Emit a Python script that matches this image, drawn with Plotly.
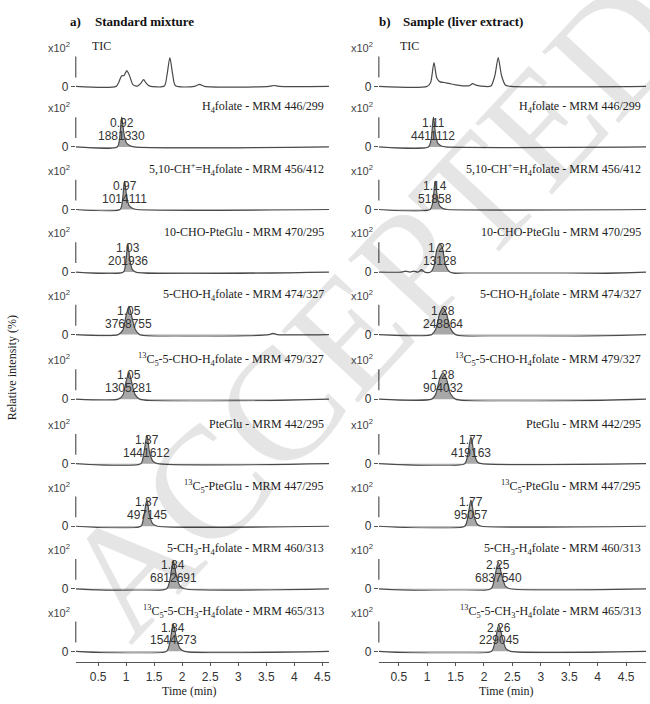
import plotly.graph_objects as go

# ---------------- DATA ----------------
labels = [
    "TIC",
    "H<sub>4</sub>folate - MRM 446/299",
    "5,10-CH<sup>+</sup>=H<sub>4</sub>folate - MRM 456/412",
    "10-CHO-PteGlu - MRM 470/295",
    "5-CHO-H<sub>4</sub>folate - MRM 474/327",
    "<sup>13</sup>C<sub>5</sub>-5-CHO-H<sub>4</sub>folate - MRM 479/327",
    "PteGlu - MRM 442/295",
    "<sup>13</sup>C<sub>5</sub>-PteGlu - MRM 447/295",
    "5-CH<sub>3</sub>-H<sub>4</sub>folate - MRM 460/313",
    "<sup>13</sup>C<sub>5</sub>-5-CH<sub>3</sub>-H<sub>4</sub>folate - MRM 465/313",
]

rt_a = [None, 0.92, 0.97, 1.03, 1.05, 1.05, 1.37, 1.37, 1.84, 1.84]
area_a = [None, "1881330", "1014111", "201936", "3768755", "1305281",
          "1441612", "497145", "6812691", "1544273"]
rt_b = [None, 1.11, 1.14, 1.22, 1.28, 1.28, 1.77, 1.77, 2.25, 2.26]
area_b = [None, "4411112", "51858", "13128", "248864", "904032",
          "419163", "95057", "6837540", "229045"]

# chromatogram points (time in min, relative intensity)
tic_a_t = [0.10, 0.82, 0.87, 0.92, 0.96, 1.01, 1.06, 1.12, 1.20, 1.26, 1.31, 1.36, 1.42,
           1.68, 1.73, 1.78, 1.83, 1.88, 2.22, 2.31, 2.40, 3.55, 3.64, 3.73, 4.62]
tic_a_y = [0, 0, 0.15, 0.36, 0.36, 0.53, 0.36, 0.06, 0.01, 0.10, 0.23, 0.10, 0.01,
           0.01, 0.40, 0.97, 0.40, 0.02, 0.0, 0.07, 0.0, 0.0, 0.03, 0.0, 0]
h4_a_t = [0.10, 0.84, 0.88, 0.92, 0.96, 1.00, 1.06, 1.14, 4.62]
h4_a_y = [0, 0, 0.25, 1.0, 0.45, 0.15, 0.05, 0, 0]
ch_a_t = [0.10, 0.89, 0.93, 0.97, 1.01, 1.05, 1.11, 1.19, 4.62]
ch_a_y = [0, 0, 0.25, 0.95, 0.42, 0.14, 0.04, 0, 0]
choPte_a_t = [0.10, 0.95, 0.99, 1.03, 1.07, 1.11, 1.17, 4.62]
choPte_a_y = [0, 0, 0.30, 0.95, 0.35, 0.08, 0, 0]
cho5_a_t = [0.10, 0.86, 0.94, 1.00, 1.05, 1.10, 1.16, 1.24, 3.55, 3.62, 3.70, 4.62]
cho5_a_y = [0, 0, 0.15, 0.65, 0.95, 0.60, 0.18, 0, 0, 0.04, 0, 0]
cho5c_a_t = [0.10, 0.86, 0.94, 1.00, 1.05, 1.10, 1.16, 1.24, 4.62]
cho5c_a_y = [0, 0, 0.13, 0.60, 0.90, 0.55, 0.15, 0, 0]
pte_a_t = [0.10, 1.26, 1.31, 1.37, 1.42, 1.48, 1.56, 4.62]
pte_a_y = [0, 0, 0.30, 0.95, 0.35, 0.08, 0, 0]
ptec_a_t = [0.10, 1.26, 1.31, 1.37, 1.42, 1.48, 1.56, 4.62]
ptec_a_y = [0, 0, 0.28, 0.90, 0.33, 0.07, 0, 0]
ch3_a_t = [0.10, 1.72, 1.78, 1.84, 1.90, 1.96, 2.04, 4.62]
ch3_a_y = [0, 0, 0.30, 0.95, 0.40, 0.10, 0, 0]
ch3c_a_t = [0.10, 1.72, 1.78, 1.84, 1.90, 1.96, 2.04, 4.62]
ch3c_a_y = [0, 0, 0.30, 0.92, 0.40, 0.10, 0, 0]

tic_b_t = [0.15, 1.00, 1.06, 1.12, 1.17, 1.22, 1.30, 1.40, 1.50, 1.62, 1.74, 1.80, 1.86,
           1.94, 2.12, 2.19, 2.25, 2.31, 2.38, 2.48, 4.85]
tic_b_y = [0, 0, 0.12, 0.80, 0.28, 0.16, 0.13, 0.09, 0.05, 0.02, 0.02, 0.09, 0.04,
           0.01, 0.01, 0.35, 0.97, 0.35, 0.04, 0.0, 0]
h4_b_t = [0.15, 1.02, 1.07, 1.11, 1.15, 1.19, 1.25, 1.33, 4.85]
h4_b_y = [0, 0, 0.25, 1.0, 0.40, 0.12, 0.03, 0, 0]
ch_b_t = [0.15, 1.05, 1.10, 1.14, 1.18, 1.22, 1.28, 1.36, 4.85]
ch_b_y = [0, 0, 0.25, 0.95, 0.42, 0.12, 0.03, 0, 0]
choPte_b_t = [0.15, 0.55, 0.62, 0.70, 0.76, 0.84, 0.90, 0.96, 1.06, 1.12, 1.17, 1.22,
              1.27, 1.32, 1.40, 4.85]
choPte_b_y = [0, 0, 0.03, 0.0, 0.03, 0.0, 0.08, 0.0, 0, 0.20, 0.75, 0.95,
              0.80, 0.25, 0, 0]
cho5_b_t = [0.15, 1.08, 1.15, 1.22, 1.28, 1.34, 1.41, 1.50, 4.85]
cho5_b_y = [0, 0, 0.18, 0.70, 0.90, 0.70, 0.20, 0, 0]
cho5c_b_t = [0.15, 1.08, 1.15, 1.22, 1.28, 1.34, 1.41, 1.50, 4.85]
cho5c_b_y = [0, 0, 0.16, 0.68, 0.88, 0.68, 0.18, 0, 0]
pte_b_t = [0.15, 1.66, 1.71, 1.77, 1.83, 1.89, 1.96, 4.85]
pte_b_y = [0, 0, 0.25, 0.90, 0.30, 0.05, 0, 0]
ptec_b_t = [0.15, 1.66, 1.71, 1.77, 1.83, 1.89, 1.96, 4.85]
ptec_b_y = [0, 0, 0.25, 0.88, 0.30, 0.05, 0, 0]
ch3_b_t = [0.15, 2.12, 2.18, 2.25, 2.32, 2.38, 2.46, 4.85]
ch3_b_y = [0, 0, 0.30, 0.90, 0.40, 0.08, 0, 0]
ch3c_b_t = [0.15, 2.13, 2.19, 2.26, 2.33, 2.39, 2.47, 4.85]
ch3c_b_y = [0, 0, 0.30, 0.90, 0.40, 0.08, 0, 0]

series_a = [(tic_a_t, tic_a_y), (h4_a_t, h4_a_y), (ch_a_t, ch_a_y), (choPte_a_t, choPte_a_y),
            (cho5_a_t, cho5_a_y), (cho5c_a_t, cho5c_a_y), (pte_a_t, pte_a_y),
            (ptec_a_t, ptec_a_y), (ch3_a_t, ch3_a_y), (ch3c_a_t, ch3c_a_y)]
series_b = [(tic_b_t, tic_b_y), (h4_b_t, h4_b_y), (ch_b_t, ch_b_y), (choPte_b_t, choPte_b_y),
            (cho5_b_t, cho5_b_y), (cho5c_b_t, cho5c_b_y), (pte_b_t, pte_b_y),
            (ptec_b_t, ptec_b_y), (ch3_b_t, ch3_b_y), (ch3c_b_t, ch3c_b_y)]

time_ticks = [0.5, 1, 1.5, 2, 2.5, 3, 3.5, 4, 4.5]
time_ticktext = ["0.5", "1", "1.5", "2", "2.5", "3", "3.5", "4", "4.5"]

# ---------------- LAYOUT ----------------
W, H = 650, 704
base_px = [87, 148, 211, 274, 337, 402, 467, 530, 593, 656]
cols = [
    dict(x0=76, x1=330, rng=[0.10, 4.62], series=series_a, rt=rt_a, area=area_a,
         tic_x=90, time_x=190, head="a)", head_x=68, title="Standard mixture", title_x=93),
    dict(x0=380, x1=648, rng=[0.15, 4.85], series=series_b, rt=rt_b, area=area_b,
         tic_x=399, time_x=508, head="b)", head_x=378, title="Sample (liver extract)", title_x=402),
]
PXU = 30.0  # pixels per intensity unit
LINE = "#4a4a4a"
FILL = "#a8a8a8"
SERIF = "Liberation Serif, Times New Roman, serif"
SANS = "Liberation Sans, Arial, sans-serif"

def py(px):
    return 1 - px / H

fig = go.Figure()
layout = dict(width=W, height=H, margin=dict(l=0, r=0, t=0, b=0),
              paper_bgcolor="white", plot_bgcolor="rgba(0,0,0,0)", showlegend=False)
annotations = []
shapes = []

# watermark
annotations.append(dict(text="ACCEPTED MANUSCRIPT", xref="paper", yref="paper",
                        x=740 / W, y=py(-85), xanchor="center", yanchor="middle",
                        textangle=-47, showarrow=False,
                        font=dict(family=SERIF, size=160, color="rgba(0,0,0,0.10)")))

for c, col in enumerate(cols):
    for i in range(10):
        n = i * 2 + c + 1
        xa = "x" if n == 1 else f"x{n}"
        ya = "y" if n == 1 else f"y{n}"
        xkey = "xaxis" if n == 1 else f"xaxis{n}"
        ykey = "yaxis" if n == 1 else f"yaxis{n}"
        t, y = col["series"][i]
        tr = dict(x=t, y=y, mode="lines", xaxis=xa, yaxis=ya, hoverinfo="skip",
                  line=dict(color=LINE, width=1.2, shape="spline", smoothing=0.7))
        if i > 0:
            tr.update(fill="tozeroy", fillcolor=FILL)
        fig.add_trace(go.Scatter(**tr))

        b = base_px[i]
        xdict = dict(domain=[col["x0"] / W, col["x1"] / W], range=col["rng"], anchor=ya,
                     showgrid=False, zeroline=False, showline=False, showticklabels=False,
                     ticks="")
        if i == 9:
            xdict.update(anchor="free", position=py(667), showline=True, linecolor="#555",
                         linewidth=1, showticklabels=True, tickvals=time_ticks,
                         ticktext=time_ticktext, ticks="outside", ticklen=3, tickcolor="#555",
                         tickfont=dict(family=SANS, size=12, color="#333"))
        layout[xkey] = xdict
        layout[ykey] = dict(domain=[py(b + 2), py(b - 44)], range=[-2 / PXU, 44 / PXU],
                            anchor=xa, showgrid=False, zeroline=False, showline=False,
                            tickvals=[0], ticktext=["0"], ticks="outside", ticklen=4,
                            tickcolor="#555", tickfont=dict(family=SANS, size=12, color="#333"))
        # partial y axis segment
        shapes.append(dict(type="line", xref=f"{xa} domain", yref=ya, x0=0, x1=0,
                           y0=0.3, y1=1.0, line=dict(color="#555", width=1.2)))
        # x10^2
        annotations.append(dict(text="x10<sup>2</sup>", xref="paper", yref="paper",
                                x=(col["x0"] - 4) / W, y=py(b - 40), xanchor="right",
                                yanchor="middle", showarrow=False,
                                font=dict(family=SANS, size=11, color="#444")))
        if i == 0:
            annotations.append(dict(text="TIC", xref="paper", yref="paper",
                                    x=col["tic_x"] / W, y=py(b - 41), xanchor="left",
                                    yanchor="middle", showarrow=False,
                                    font=dict(family=SERIF, size=12, color="#222")))
        else:
            annotations.append(dict(text=labels[i], xref="paper", yref="paper",
                                    x=(col["x1"] - 3) / W, y=py(b - 40), xanchor="right",
                                    yanchor="middle", showarrow=False,
                                    font=dict(family=SERIF, size=12, color="#222")))
            annotations.append(dict(text=f"{col['rt'][i]:.2f}", xref=xa, yref=ya,
                                    x=col["rt"][i], y=24 / PXU, xanchor="center",
                                    yanchor="middle", showarrow=False,
                                    font=dict(family=SANS, size=12, color="#333")))
            annotations.append(dict(text=col["area"][i], xref=xa, yref=ya,
                                    x=col["rt"][i], y=11 / PXU, xanchor="center",
                                    yanchor="middle", showarrow=False,
                                    font=dict(family=SANS, size=12, color="#333")))
    # column heading
    annotations.append(dict(text=f"<b>{col['head']}</b>", xref="paper", yref="paper",
                            x=col["head_x"] / W, y=py(22), xanchor="left", yanchor="middle",
                            showarrow=False, font=dict(family=SERIF, size=13, color="#111")))
    annotations.append(dict(text=f"<b>{col['title']}</b>", xref="paper", yref="paper",
                            x=col["title_x"] / W, y=py(22), xanchor="left", yanchor="middle",
                            showarrow=False, font=dict(family=SERIF, size=13, color="#111")))
    annotations.append(dict(text="Time (min)", xref="paper", yref="paper",
                            x=col["time_x"] / W, y=py(696), xanchor="center", yanchor="middle",
                            showarrow=False, font=dict(family=SERIF, size=12, color="#222")))

annotations.append(dict(text="Relative intensity (%)", xref="paper", yref="paper",
                        x=12 / W, y=py(370), xanchor="center", yanchor="middle",
                        textangle=-90, showarrow=False,
                        font=dict(family=SERIF, size=12, color="#222")))

layout["annotations"] = annotations
layout["shapes"] = shapes
fig.update_layout(**layout)
fig.write_html("out.html", config={"displayModeBar": False},
               post_script="document.body.style.margin='0';document.body.style.overflow='hidden';")
